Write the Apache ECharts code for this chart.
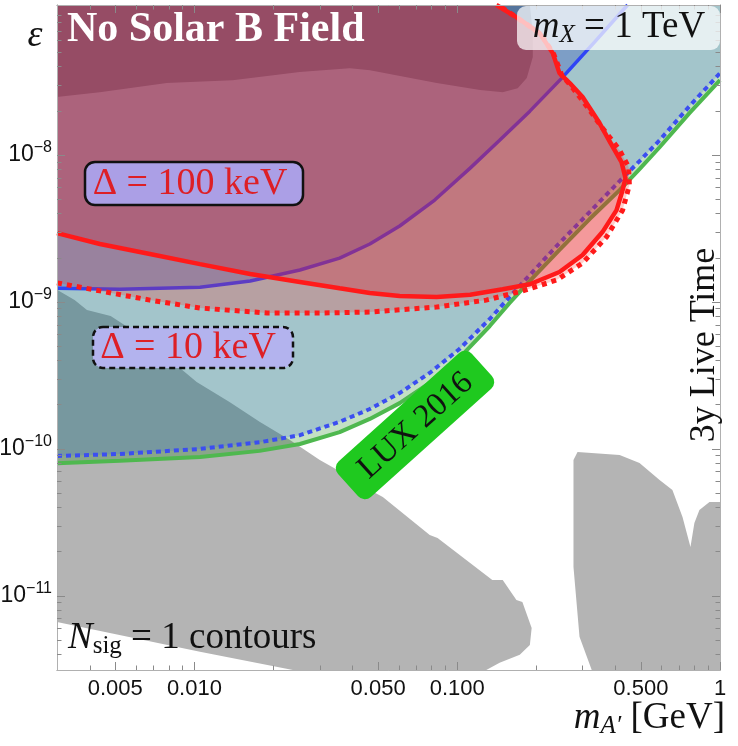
<!DOCTYPE html>
<html>
<head>
<meta charset="utf-8">
<script src="https://cdn.jsdelivr.net/npm/echarts@6/dist/echarts.min.js"></script>
<style>
  html, body { margin: 0; padding: 0; background: #fff; }
  #chart { width: 738px; height: 746px; }
</style>
</head>
<body>
<div id="chart"></div>
<script>
var chart = echarts.init(document.getElementById('chart'));

// axis range: dark photon mass (GeV) and kinetic mixing epsilon
var massMin = 0.003, massMax = 1;
var epsMin = 3.13e-12, epsMax = 1.05e-7;

var xTickValues = [0.005, 0.01, 0.05, 0.1, 0.5, 1];
var xTickLabels = ['0.005', '0.010', '0.050', '0.100', '0.500', '1'];
var yTickValues = [1e-11, 1e-10, 1e-9, 1e-8];
var yTickExps = ['\u221211', '\u221210', '\u22129', '\u22128'];

// LUX 2016 bound and the 10 keV blue (dotted) contour share one mass grid
var lineMass = [0.003, 0.0052, 0.0105, 0.0177, 0.0252, 0.0357, 0.0465, 0.0604, 0.0786, 0.102, 0.133, 0.158, 0.189, 0.245, 0.319, 0.415, 0.494, 0.589, 0.765, 1.0];
var luxEps = [8.0e-11, 8.3e-11, 8.8e-11, 9.7e-11, 1.08e-10, 1.30e-10, 1.60e-10, 2.05e-10, 2.81e-10, 4.16e-10, 6.86e-10, 9.83e-10, 1.39e-9, 2.26e-9, 3.67e-9, 5.77e-9, 8.02e-9, 1.13e-8, 1.93e-8, 3.23e-8];
var b10Eps = [8.95e-11, 9.24e-11, 1.0e-10, 1.11e-10, 1.24e-10, 1.53e-10, 1.87e-10, 2.40e-10, 3.29e-10, 4.79e-10, 7.66e-10, 1.08e-9, 1.53e-9, 2.52e-9, 4.09e-9, 6.65e-9, 9.10e-9, 1.26e-8, 2.15e-8, 3.61e-8];

// 100 keV blue (solid) contour
var b100Mass = [0.003, 0.0052, 0.0105, 0.0163, 0.0252, 0.0357, 0.0465, 0.0604, 0.0821, 0.112, 0.145, 0.189, 0.250, 0.333, 0.445];
var b100Eps = [1.24e-9, 1.22e-9, 1.26e-9, 1.39e-9, 1.65e-9, 1.99e-9, 2.48e-9, 3.29e-9, 4.94e-9, 8.15e-9, 1.26e-8, 1.99e-8, 3.34e-8, 5.87e-8, 1.05e-7];

// 100 keV red (solid) contour
var r100Mass = [0.003, 0.00437, 0.00677, 0.0105, 0.0163, 0.0252, 0.0357, 0.0465, 0.0604, 0.0835, 0.112, 0.149, 0.189, 0.245, 0.300, 0.357, 0.404, 0.426, 0.437, 0.422, 0.383, 0.348, 0.300, 0.268, 0.245, 0.231, 0.206, 0.168, 0.141];
var r100Eps = [2.94e-9, 2.48e-9, 2.12e-9, 1.81e-9, 1.55e-9, 1.37e-9, 1.24e-9, 1.15e-9, 1.10e-9, 1.08e-9, 1.12e-9, 1.22e-9, 1.32e-9, 1.60e-9, 2.09e-9, 2.99e-9, 4.22e-9, 5.77e-9, 6.97e-9, 8.95e-9, 1.21e-8, 1.65e-8, 2.48e-8, 3.09e-8, 3.61e-8, 4.94e-8, 6.75e-8, 8.68e-8, 1.05e-7];

// 10 keV red (dotted) contour
var r10Mass = [0.003, 0.00437, 0.00677, 0.0105, 0.0189, 0.030, 0.0465, 0.0835, 0.129, 0.177, 0.239, 0.300, 0.370, 0.426, 0.452, 0.449, 0.415, 0.357, 0.311, 0.272, 0.250, 0.233, 0.208, 0.170, 0.143];
var r10Eps = [1.35e-9, 1.19e-9, 1.03e-9, 9.10e-10, 8.41e-10, 8.41e-10, 8.54e-10, 9.24e-10, 1.03e-9, 1.19e-9, 1.41e-9, 1.84e-9, 2.77e-9, 4.22e-9, 6.25e-9, 8.28e-9, 1.08e-8, 1.53e-8, 2.15e-8, 2.94e-8, 3.50e-8, 4.86e-8, 6.65e-8, 8.54e-8, 1.05e-7];

// grey excluded regions
var g1Mass = [0.003, 0.0035, 0.0039, 0.0048, 0.0062, 0.0081, 0.0102, 0.0136, 0.0177, 0.0231, 0.030, 0.0373, 0.0465, 0.0521, 0.0786, 0.0842, 0.136, 0.149, 0.168, 0.177, 0.192, 0.189, 0.173, 0.145, 0.129, 0.0237, 0.0105, 0.003];
var g1Eps = [1.21e-9, 1.03e-9, 8.82e-10, 8.02e-10, 5.96e-10, 4.03e-10, 2.85e-10, 2.09e-10, 1.53e-10, 1.15e-10, 8.41e-11, 6.75e-11, 5.26e-11, 4.71e-11, 2.60e-11, 2.48e-11, 1.28e-11, 1.28e-11, 9.38e-12, 9.10e-12, 6.05e-12, 4.64e-12, 3.97e-12, 3.50e-12, 3.13e-12, 3.13e-12, 4.16e-12, 6.65e-12];
var g2Mass = [0.277, 0.277, 0.287, 0.415, 0.494, 0.589, 0.659, 0.720, 0.772, 0.799, 0.835, 0.912, 1.0, 1.0, 0.325, 0.292];
var g2Eps = [1.57e-11, 8.41e-11, 9.53e-11, 9.10e-11, 8.02e-11, 6.15e-11, 5.26e-11, 3.44e-11, 2.15e-11, 3.13e-11, 3.84e-11, 4.36e-11, 4.36e-11, 3.13e-12, 3.13e-12, 5.26e-12];
var g3Mass = [0.003, 0.003, 0.00437, 0.00786, 0.014, 0.0252, 0.039, 0.0465, 0.0835, 0.122, 0.149, 0.170, 0.184, 0.194, 0.194, 0.189];
var g3Eps = [1.05e-7, 2.48e-8, 2.68e-8, 3.09e-8, 3.23e-8, 3.67e-8, 3.90e-8, 3.78e-8, 3.09e-8, 2.77e-8, 2.68e-8, 2.85e-8, 3.34e-8, 4.64e-8, 6.75e-8, 1.05e-7];

// ************** helpers *************
var serif = '"Liberation Serif", "DejaVu Serif", serif';
var sans = '"Liberation Sans", Arial, sans-serif';
var log10 = Math.log10;

function toPts(mass, eps) {
    return mass.map(function (m, i) { return [log10(m), log10(eps[i])]; });
}

// region above a curve (closed along the top of the frame)
function above(mass, eps) {
    return toPts(mass.concat([massMax, massMin]), eps.concat([epsMax, epsMax]));
}

function region(pts, color, z) {
    return {
        type: 'custom', silent: true, z: z, clip: true,
        data: [pts[0]],
        renderItem: function (params, api) {
            return {
                type: 'polygon',
                shape: { points: pts.map(function (p) { return api.coord(p); }) },
                style: { fill: color }
            };
        }
    };
}

function curve(pts, color, width, dash, z) {
    return {
        type: 'line', silent: true, z: z, showSymbol: false, symbol: 'none',
        data: pts,
        lineStyle: { color: color, width: width, type: dash || 'solid' }
    };
}

var xMinor = [], yMinor = [];
[0.001, 0.01, 0.1].forEach(function (d) {
    for (var k = 2; k <= 9; k++) {
        var v = k * d;
        if (v > massMin && v < massMax && xTickValues.indexOf(+v.toPrecision(3)) < 0) xMinor.push(log10(v));
    }
});
[1e-12, 1e-11, 1e-10, 1e-9, 1e-8].forEach(function (d) {
    for (var k = 2; k <= 9; k++) {
        var v = k * d;
        if (v > epsMin && v < epsMax) yMinor.push(log10(v));
    }
});
var xMajor = xTickValues.map(log10);
var yMajor = yTickValues.map(log10);

function pick(ticks, labels) {
    return function (v) {
        for (var i = 0; i < ticks.length; i++) if (Math.abs(ticks[i] - v) < 1e-6) return labels[i];
        return '';
    };
}

function makeX(pos, values, len, labels) {
    return {
        type: 'value', position: pos, min: log10(massMin), max: log10(massMax), z: 50,
        splitLine: { show: false },
        axisLine: { show: true, onZero: false, lineStyle: { color: '#b0b0b0', width: 1 } },
        axisTick: { show: true, inside: true, length: len, customValues: values, lineStyle: { color: '#8a8a8a', width: 1 } },
        axisLabel: labels ? {
            show: true, customValues: xMajor, margin: 8, color: '#111', fontSize: 22, fontFamily: sans,
            formatter: pick(xMajor, xTickLabels)
        } : { show: false }
    };
}

function makeY(pos, values, len) {
    return {
        type: 'value', position: pos, min: log10(epsMin), max: log10(epsMax), z: 50,
        splitLine: { show: false },
        axisLine: { show: true, onZero: false, lineStyle: { color: '#b0b0b0', width: 1 } },
        axisTick: { show: true, inside: true, length: len, customValues: values, lineStyle: { color: '#8a8a8a', width: 1 } },
        axisLabel: { show: false }
    };
}

var mathRich = {
    i: { fontSize: 37, fontFamily: serif, fontStyle: 'italic', lineHeight: 42, fill: '#111' },
    s: { fontSize: 25, fontFamily: serif, fontStyle: 'italic', lineHeight: 26, verticalAlign: 'bottom', fill: '#111' },
    r: { fontSize: 25, fontFamily: serif, lineHeight: 26, verticalAlign: 'bottom', fill: '#111' },
    n: { fontSize: 37, fontFamily: serif, lineHeight: 42, fill: '#111' }
};
var powRich = {
    b: { fontSize: 23, fontFamily: sans, lineHeight: 30, fill: '#111' },
    e: { fontSize: 16, fontFamily: sans, lineHeight: 15, verticalAlign: 'top', fill: '#111' }
};

option = {
    animation: false,
    backgroundColor: '#fff',
    grid: { left: 57, top: 5, width: 663, height: 665, containLabel: false, outerBoundsMode: 'none' },
    xAxis: [
        makeX('bottom', xMajor, 8, true),
        makeX('bottom', xMinor, 4.5, false),
        makeX('top', xMajor, 8, false),
        makeX('top', xMinor, 4.5, false)
    ],
    yAxis: [
        makeY('left', yMajor, 8),
        makeY('left', yMinor, 4.5),
        makeY('right', yMajor, 8),
        makeY('right', yMinor, 4.5)
    ],
    series: [
        region(toPts(g1Mass, g1Eps), '#b4b4b4', 1),
        region(toPts(g2Mass, g2Eps), '#b4b4b4', 1),
        region(toPts(g3Mass, g3Eps), '#999999', 1),
        region(above(lineMass, luxEps), 'rgba(0,120,0,0.23)', 2),
        curve(toPts(lineMass, luxEps), '#4fb84f', 4, null, 3),
        region(above(lineMass, b10Eps), 'rgba(56,110,231,0.23)', 4),
        curve(toPts(lineMass, b10Eps), '#3b4ef0', 4, [5, 4], 5),
        region(above(b100Mass, b100Eps), 'rgba(41,71,190,0.30)', 6),
        curve(toPts(b100Mass, b100Eps), '#2f45f5', 3.5, null, 7),
        region(toPts(r10Mass.concat([massMin]), r10Eps.concat([epsMax])), 'rgba(255,30,20,0.22)', 8),
        region(toPts(r100Mass.concat([massMin]), r100Eps.concat([epsMax])), 'rgba(217,30,46,0.30)', 9),
        curve(toPts(r10Mass, r10Eps), '#ff1a1a', 5, [5, 5], 10),
        curve(toPts(r100Mass, r100Eps), '#ff1a1a', 4.5, null, 11)
    ],
    graphic: [
        { type: 'text', x: 67, y: 30, z: 100,
          style: { text: 'No Solar B Field', fill: '#fff', font: 'bold 42px ' + serif, align: 'left', verticalAlign: 'middle', textAlign: 'left', textVerticalAlign: 'middle' } },
        { type: 'text', x: 35, y: 36, z: 100,
          style: { text: '\u03b5', fill: '#111', font: 'italic 38px ' + serif, align: 'center', verticalAlign: 'middle', textAlign: 'center', textVerticalAlign: 'middle' } },
        { type: 'rect', z: 100, shape: { x: 517, y: 6, width: 203, height: 44, r: 9 }, style: { fill: 'rgba(255,255,255,0.72)' } },
        { type: 'text', x: 619, y: 27, z: 101,
          style: { text: '{i|m}{s|X}{n| = 1 TeV}', rich: mathRich, align: 'center', verticalAlign: 'middle', textAlign: 'center', textVerticalAlign: 'middle' } },
        { type: 'rect', z: 100, shape: { x: 85, y: 162, width: 218, height: 43, r: 10 }, style: { fill: '#ab9fe6', stroke: '#111', lineWidth: 2.5 } },
        { type: 'text', x: 190, y: 184, z: 101,
          style: { text: '\u0394 = 100 keV', fill: '#dd1f26', font: '38px ' + serif, align: 'center', verticalAlign: 'middle', textAlign: 'center', textVerticalAlign: 'middle' } },
        { type: 'rect', z: 100, shape: { x: 93, y: 327, width: 200, height: 41, r: 10 }, style: { fill: '#b3b3ee', stroke: '#111', lineWidth: 2.5, lineDash: [6, 4] } },
        { type: 'text', x: 188, y: 348, z: 101,
          style: { text: '\u0394 = 10 keV', fill: '#dd1f26', font: '38px ' + serif, align: 'center', verticalAlign: 'middle', textAlign: 'center', textVerticalAlign: 'middle' } },
        { type: 'group', x: 415, y: 425, rotation: 42 * Math.PI / 180, z: 100,
          children: [
            { type: 'rect', z: 100, shape: { x: -90, y: -24, width: 180, height: 48, r: 9 }, style: { fill: '#1fc91f' } },
            { type: 'text', x: 0, y: 1, z: 101,
              style: { text: 'LUX 2016', fill: '#111', font: '33px ' + serif, align: 'center', verticalAlign: 'middle', textAlign: 'center', textVerticalAlign: 'middle' } }
          ] },
        { type: 'text', x: 705, y: 345, rotation: Math.PI / 2, z: 100,
          style: { text: '3y Live Time', fill: '#111', font: '36px ' + serif, align: 'center', verticalAlign: 'middle', textAlign: 'center', textVerticalAlign: 'middle' } },
        { type: 'text', x: 68, y: 638, z: 100,
          style: { text: '{i|N}{r|sig}{n| = 1 contours}', rich: mathRich, align: 'left', verticalAlign: 'middle', textAlign: 'left', textVerticalAlign: 'middle' } },
        { type: 'text', x: 725, y: 718, z: 100,
          style: { text: '{i|m}{s|A\u2032}{n| [GeV]}', rich: mathRich, align: 'right', verticalAlign: 'middle', textAlign: 'right', textVerticalAlign: 'middle' } }
    ]
};
chart.setOption(option);

// y tick labels (10^n) placed through the axis scale
var frameLeft = chart.convertToPixel({ xAxisIndex: 0 }, log10(massMin));
var yLabels = yTickValues.map(function (v, i) {
    return {
        type: 'text', z: 100,
        x: frameLeft - 5,
        y: chart.convertToPixel({ yAxisIndex: 0 }, log10(v)),
        style: { text: '{b|10}{e|' + yTickExps[i] + '}', rich: powRich, align: 'right', verticalAlign: 'middle', textAlign: 'right', textVerticalAlign: 'middle' }
    };
});
chart.setOption({ graphic: option.graphic.concat(yLabels) });
</script>
</body>
</html>
